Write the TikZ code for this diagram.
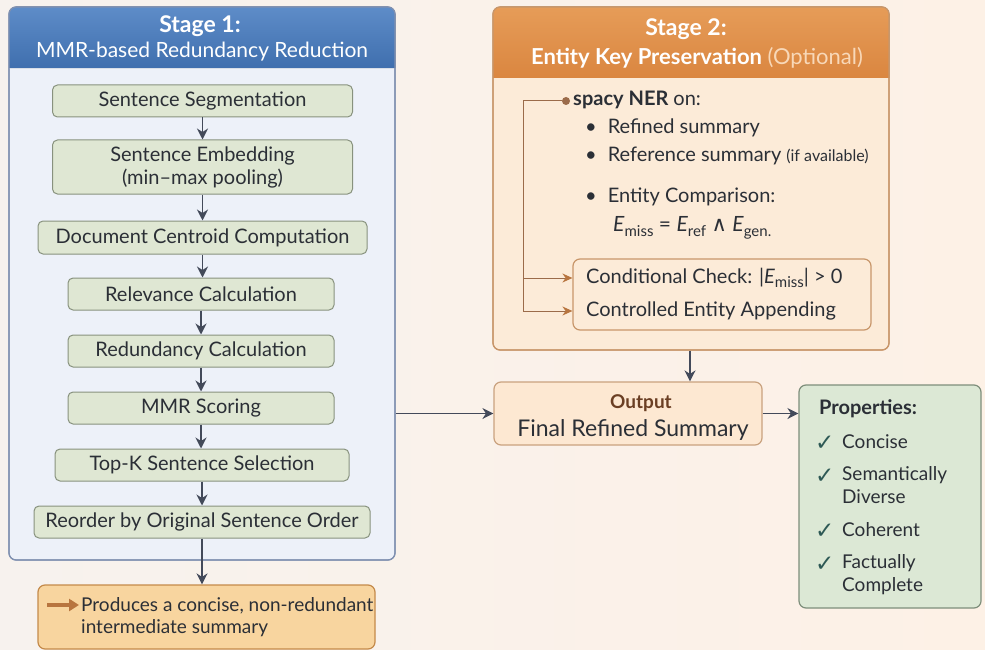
\documentclass[tikz,border=0pt]{standalone}
\usepackage{fontspec}
\setmainfont{Lato}
\newfontfamily\symfont{DejaVu Sans}
\usetikzlibrary{arrows.meta,calc}

\definecolor{bgL}{HTML}{F7F2EE}
\definecolor{bgR}{HTML}{FDF1E6}
\definecolor{ink}{HTML}{2B2F36}
\definecolor{flowc}{HTML}{434A5A}
\definecolor{bluetop}{HTML}{5E8CC8}
\definecolor{bluebot}{HTML}{3F6FAE}
\definecolor{bluepanel}{HTML}{EDF1F9}
\definecolor{blueline}{HTML}{7F90B0}
\definecolor{greenfill}{HTML}{DFE7D3}
\definecolor{greenline}{HTML}{88927E}
\definecolor{orgtop}{HTML}{E69C58}
\definecolor{orgbot}{HTML}{DA8640}
\definecolor{orgpanel}{HTML}{FCEBD8}
\definecolor{orgline}{HTML}{C8966A}
\definecolor{brownln}{HTML}{9B6B4A}
\definecolor{browntip}{HTML}{B8753F}
\definecolor{prodfill}{HTML}{F8D59F}
\definecolor{prodline}{HTML}{C48A4A}
\definecolor{outfill}{HTML}{FDE8D2}
\definecolor{outline}{HTML}{C9A27F}
\definecolor{outtitle}{HTML}{6B3F24}
\definecolor{propfill}{HTML}{DCE8D5}
\definecolor{propline}{HTML}{7E8E7B}
\definecolor{checkc}{HTML}{2E5955}
\definecolor{optc}{HTML}{F8D8B8}

\newcommand\sub[1]{\raisebox{-4.5pt}{\fontsize{15}{17}\selectfont #1}}

\tikzset{
  stepbox/.style={draw=greenline, fill=greenfill, line width=1pt, rounded corners=5pt,
    text=ink, font=\fontsize{20}{23}\selectfont, align=center, inner sep=0pt},
  flow/.style={draw=flowc, line width=1.8pt, -{Stealth[length=11pt,width=11pt]}},
  link/.style={draw=brownln, line width=1pt},
  linkarrow/.style={link, -{Stealth[length=10pt,width=9pt,color=browntip]}},
  hdr/.style={text=white, font=\fontsize{21}{24}\selectfont, inner sep=0pt},
  txt/.style={text=ink, font=\fontsize{20}{23}\selectfont, inner sep=0pt, anchor=west},
  proptxt/.style={text=ink, font=\fontsize{19}{22}\selectfont, inner sep=0pt, anchor=west},
}

\begin{document}
\begin{tikzpicture}[x=1pt,y=-1pt]
\useasboundingbox (0,0) rectangle (985,650);
\fill[left color=bgL, right color=bgR] (0,0) rectangle (985,650);

% ---------- Stage 1 panel ----------
\node[draw=blueline, fill=bluepanel, line width=1.2pt, rounded corners=7pt,
      minimum width=386pt, minimum height=553pt, inner sep=0pt] (stage1) at (202,283.5) {};
\fill[top color=bluetop, bottom color=bluebot] (9,68) [rounded corners=7pt] -- (9,7) -- (395,7) [sharp corners] -- (395,68) -- cycle;
\draw[blueline, line width=1.2pt, rounded corners=7pt] (9,7) rectangle (395,560);
\draw[white!70!blueline, line width=0.8pt] (9.6,68) -- (394.4,68);
\node[hdr, font=\fontsize{23}{26}\selectfont\bfseries] (t1a) at (200,26) {Stage 1:};
\node[hdr] (t1b) at (202,52) {MMR-based Redundancy Reduction};

\node[stepbox, minimum width=300pt, minimum height=32pt] (s1) at (202.5,101) {Sentence Segmentation};
\node[stepbox, minimum width=300pt, minimum height=54pt] (s2) at (202.5,167) {Sentence Embedding\\(min–max pooling)};
\node[stepbox, minimum width=329pt, minimum height=33pt] (s3) at (202.5,237.5) {Document Centroid Computation};
\node[stepbox, minimum width=266pt, minimum height=32pt] (s4) at (201,294) {Relevance Calculation};
\node[stepbox, minimum width=266pt, minimum height=32pt] (s5) at (201,351) {Redundancy Calculation};
\node[stepbox, minimum width=266pt, minimum height=32pt] (s6) at (201,408) {MMR Scoring};
\node[stepbox, minimum width=294pt, minimum height=32pt] (s7) at (202,465) {Top-K Sentence Selection};
\node[stepbox, minimum width=336pt, minimum height=32pt] (s8) at (202,522) {Reorder by Original Sentence Order};

\foreach \a/\b in {s1/s2,s2/s3,s3/s4,s4/s5,s5/s6,s6/s7,s7/s8}
  \draw[flow] (\a.south) -- (\a.south |- \b.north);

% ---------- Stage 1 result ----------
\node[draw=prodline, fill=prodfill, line width=1.2pt, rounded corners=7pt,
      minimum width=337pt, minimum height=64pt, inner sep=0pt] (prod) at (206.5,617) {};
\draw[flow] (s8.south) -- (s8.south |- prod.north);
\node[txt, align=left, font=\fontsize{19}{22}\selectfont] (prodtxt) at (81,617) {Produces a concise, non-redundant\\intermediate summary};
\coordinate (pa0) at (47,605);
\draw[line width=3.2pt, draw=browntip, -{Triangle[length=10pt,width=12pt]}] (pa0) -- ([xshift=-2pt]prodtxt.west |- pa0);

% ---------- Stage 2 panel ----------
\node[draw=orgline, fill=orgpanel, line width=1.2pt, rounded corners=7pt,
      minimum width=396pt, minimum height=343pt, inner sep=0pt] (stage2) at (691,178.5) {};
\fill[top color=orgtop, bottom color=orgbot] (493,78) [rounded corners=7pt] -- (493,7) -- (889,7) [sharp corners] -- (889,78) -- cycle;
\draw[orgline, line width=1.2pt, rounded corners=7pt] (493,7) rectangle (889,350);
\node[hdr, font=\fontsize{23}{26}\selectfont\bfseries] (t2a) at (686,29) {Stage 2:};
\node[hdr, font=\fontsize{22}{25}\selectfont] (t2b) at (697,58) {\textbf{Entity Key Preservation} \textcolor{optc}{(Optional)}};

\node[circle, fill=brownln, minimum size=8pt, inner sep=0pt] (dot) at (566,101) {};
\node[txt] (ner) at (573,100) {\textbf{spacy NER} on:};
\node[txt] (b1) at (585,128) {•\hspace{11pt}Refined summary};
\node[txt] (b2) at (585,156) {•\hspace{11pt}Reference summary {\fontsize{16}{18}\selectfont (if available)}};
\node[txt] (b3) at (585,197) {•\hspace{11pt}Entity Comparison:};
\node[txt, font=\fontsize{21}{24}\selectfont] (eq) at (613,228) {\textit{E}\sub{miss} = \textit{E}\sub{ref} {\symfont\fontsize{21}{24}\selectfont ∧} \textit{E}\sub{gen.}};

\node[draw=orgline, fill=orgpanel, line width=1.2pt, rounded corners=7pt,
      minimum width=298pt, minimum height=71pt, inner sep=0pt] (check) at (722,294.5) {};
\node[txt] (c1) at (586,278) {Conditional Check: |\textit{E}\sub{miss}| > 0};
\node[txt] (c2) at (586,311) {Controlled Entity Appending};

\coordinate (trunk) at (523,0);
\draw[link] (dot.west) -- (dot.west -| trunk) -- (trunk |- c2.west);
\draw[linkarrow] (trunk |- c1.west) -- (check.west |- c1.west);
\draw[linkarrow] (trunk |- c2.west) -- (check.west |- c2.west);

% ---------- Output ----------
\node[draw=outline, fill=outfill, line width=1.2pt, rounded corners=7pt,
      minimum width=268pt, minimum height=63pt, inner sep=0pt] (out) at (628,413.5) {};
\node[text=outtitle, font=\fontsize{19}{22}\selectfont\bfseries, inner sep=0pt] (outa) at (641,403) {Output};
\node[text=ink, font=\fontsize{23}{26}\selectfont, inner sep=0pt] (outb) at (633,430) {Final Refined Summary};

\coordinate (o2in) at (690,0);
\draw[flow] (stage2.south -| o2in) -- (out.north -| o2in);
\draw[flow] (stage1.east |- out.west) -- (out.west);

% ---------- Properties ----------
\node[draw=propline, fill=propfill, line width=1.2pt, rounded corners=7pt,
      minimum width=182pt, minimum height=223pt, inner sep=0pt] (props) at (890,496.5) {};
\draw[flow] (out.east) -- (out.east -| props.west);
\node[proptxt, font=\fontsize{20}{23}\selectfont\bfseries] (ph) at (819,409) {Properties:};
\foreach \n/\y in {k1/443,k2/476,k3/531,k4/564}
  \node[text=checkc, font=\symfont\fontsize{23}{26}\selectfont, inner sep=0pt, anchor=west] (\n) at (815,\y) {✓};
\node[proptxt] (p1) at (842,442) {Concise};
\node[proptxt] (p2) at (842,475) {Semantically};
\node[proptxt] (p2b) at (842,497) {Diverse};
\node[proptxt] (p3) at (842,530) {Coherent};
\node[proptxt] (p4) at (842,563) {Factually};
\node[proptxt] (p4b) at (842,586) {Complete};
\end{tikzpicture}
\end{document}
